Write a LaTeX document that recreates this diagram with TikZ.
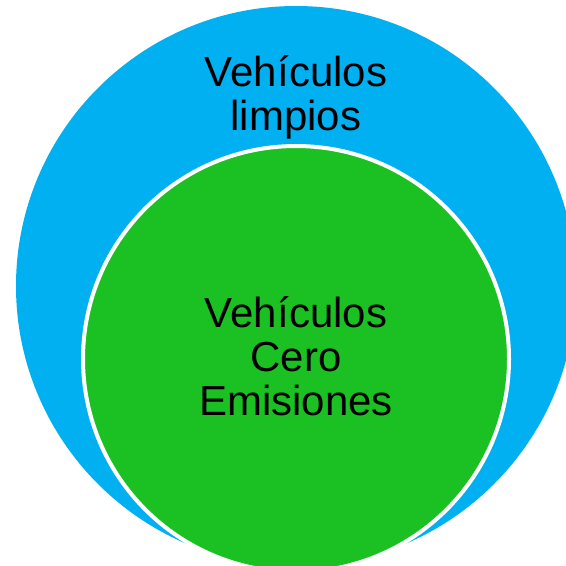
\documentclass[tikz,border=0pt]{standalone}
\usepackage{fontspec}
\setmainfont{Liberation Sans}
\usepackage{xcolor}

\begin{document}
\begin{tikzpicture}[x=0.75pt,y=0.75pt,yscale=-1,xscale=1,
  circle text/.style={inner sep=0.75pt, align=center, font=\fontsize{31.5}{33}\selectfont}]
\useasboundingbox (0,0) rectangle (566,565);
\clip (0,0) rectangle (566,565);

%Shape: Circle [id:outer]
\draw  [draw=none, fill={rgb, 255:red, 0; green, 176; blue, 240 }  ,fill opacity=1 ] (296,286) circle [radius=280] ;
%Shape: Circle [id:inner]
\draw  [color={rgb, 255:red, 255; green, 255; blue, 255 }  ,line width=3pt, fill={rgb, 255:red, 27; green, 193; blue, 34 }  ,fill opacity=1 ] (296,359) circle [radius=213] ;

% Text Node
\draw (296,97) node (clean) [circle text]   {Vehículos\\limpios};
% Text Node
\draw (296,356) node (zero) [circle text]   {Vehículos\\Cero\\Emisiones};

\end{tikzpicture}
\end{document}
